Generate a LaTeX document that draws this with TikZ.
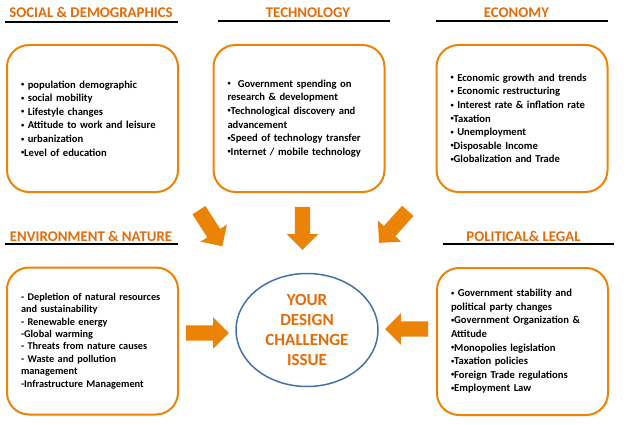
\documentclass[tikz,border=0pt]{standalone}
\usepackage{fontspec}
\setmainfont{Carlito}
\usetikzlibrary{shapes.geometric}
\usetikzlibrary{shapes.arrows}

\definecolor{pestorange}{HTML}{EB8307}
\definecolor{headorange}{HTML}{E36C0A}
\definecolor{ringblue}{HTML}{4472A8}

\newcommand{\pbul}{\raisebox{0.3ex}{\fontsize{6.5}{6.5}\selectfont•}}

\begin{document}
\begin{tikzpicture}[x=1pt,y=-1pt]
		\useasboundingbox (0,0) rectangle (642,425);
		\fill[white] (0,0) rectangle (642,425);

		\begin{scope}[every node/.style={anchor=base,inner sep=0pt,text=headorange,
					  font=\bfseries\fontsize{14.8}{17}\selectfont}]
			\node (SOCh) at (91,18) {SOCIAL \& DEMOGRAPHICS};
			\node (TECh) at (308,18) {TECHNOLOGY};
			\node (ECOh) at (516.5,18) {ECONOMY};
			\node (ENVh) at (91,241) {ENVIRONMENT \& NATURE};
			\node (POLh) at (523.5,241) {POLITICAL\& LEGAL};
		\end{scope}

		\begin{scope}[line width=1.6pt]
			\draw (5,22) -- (178,22);
			\draw (218,21) -- (390,21);
			\draw (436,21) -- (608,21);
			\draw (5,244) -- (178,244);
			\draw (443,244) -- (614,244);
		\end{scope}

		\begin{scope}[every node/.style={rectangle,rounded corners=22pt,draw=pestorange,
					  line width=2pt,fill=white,minimum width=171pt,minimum height=147pt,
					  text width=143pt,align=left,inner sep=0pt,
					  font=\bfseries\fontsize{10.6}{13.6}\selectfont}]
			\node (SOC) at (92.5,118.5) {\pbul\ population demographic\\
				\pbul\ social mobility\\
				\pbul\ Lifestyle changes\\
				\pbul\ Attitude to work and leisure\\
				\pbul\ urbanization\\
				\pbul Level of education};
			\node (TEC) at (299,118.5) {\pbul\ \ Government spending on\\
				research \& development\\
				\pbul Technological discovery and\\
				advancement\\
				\pbul Speed of technology transfer\\
				\pbul Internet / mobile technology};
			\node (ECO) at (522,118.5) {\pbul\ Economic growth and trends\\
				\pbul\ Economic restructuring\\
				\pbul\ Interest rate \& inflation rate\\
				\pbul Taxation\\
				\pbul\ Unemployment\\
				\pbul Disposable Income\\
				\pbul Globalization and Trade};
			\node[font=\bfseries\fontsize{10.3}{12.4}\selectfont] (ENV) at (92.5,341) {\mbox{- Depletion of natural resources}\\
				and sustainability\\
				- Renewable energy\\
				-Global warming\\
				- Threats from nature causes\\
				- Waste and pollution\\
				management\\
				-Infrastructure Management};
			\node (POL) at (522.5,341.5) {\pbul\ Government stability and\\
				political party changes\\
				\pbul Government Organization \&\\
				Attitude\\
				\pbul Monopolies legislation\\
				\pbul Taxation policies\\
				\pbul Foreign Trade regulations\\
				\pbul Employment Law};
		\end{scope}

		\node[ellipse,draw=ringblue,line width=1.5pt,minimum width=142pt,minimum height=113pt,
			  inner sep=0pt,align=center,text=headorange,
			  font=\bfseries\fontsize{17}{20}\selectfont] (ISSUE) at (307,330)
			  {YOUR\\DESIGN\\CHALLENGE\\ISSUE};

		\begin{scope}[every node/.style={single arrow,fill=pestorange,inner xsep=0pt,
					  inner ysep=7.5pt,minimum height=43pt,single arrow head extend=8pt}]
			\node[rotate=-57] (SOCa) at (208.5,225) {};
			\node[rotate=-90] (TECa) at (302.5,224.5) {};
			\node[rotate=-132] (ECOa) at (396,224) {};
			\node (ENVa) at (203.5,333) {};
			\node[rotate=180] (POLa) at (410.5,329) {};
		\end{scope}
	\end{tikzpicture}
\end{document}
